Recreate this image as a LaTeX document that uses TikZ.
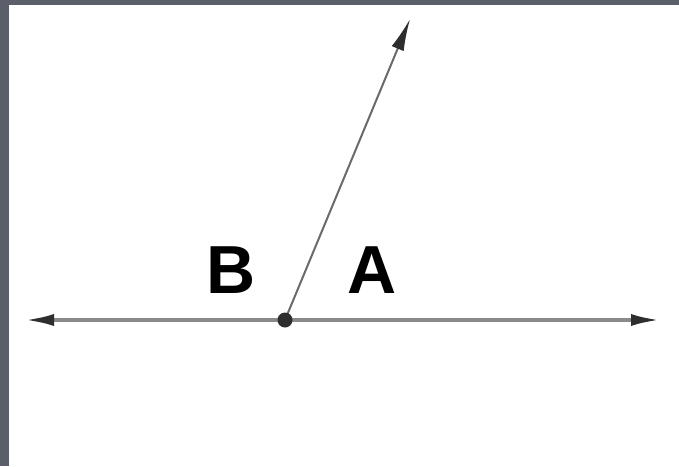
\documentclass[tikz,border=0pt]{standalone}
\usepackage{fontspec}
\setmainfont{Liberation Sans}
\usetikzlibrary{arrows.meta}
\definecolor{frame}{HTML}{5A5F6A}
\definecolor{linegray}{HTML}{8A8A8A}
\definecolor{raygray}{HTML}{6A6A6A}
\definecolor{tipgray}{HTML}{2E2E2E}
\tikzset{
  lbl/.style={font=\fontsize{68}{68}\selectfont\bfseries, inner sep=0pt, text=black},
  baseline/.style={draw=linegray, line width=4pt, {Latex[length=30pt,width=12pt,color=tipgray]}-{Latex[length=30pt,width=12pt,color=tipgray]}, shorten <=0pt, shorten >=0pt},
  rayline/.style={draw=raygray, line width=2pt, -{Latex[length=32pt,width=13pt,color=tipgray]}}
}
\begin{document}
\begin{tikzpicture}[x=1pt,y=-1pt]
\useasboundingbox (0,0) rectangle (679,466);
\fill[white] (0,0) rectangle (679,466);
\fill[frame] (0,0) rectangle (679,4.5);
\fill[frame] (0,0) rectangle (9,466);
\coordinate (L) at (24,320);
\coordinate (R) at (661,320);
\coordinate (O) at (285,320);
\coordinate (T) at (410,19);
\draw[baseline] (L) -- (R);
\draw[rayline] (O) -- (T);
\fill[tipgray] (O) circle (7.5pt);
\node[lbl] (B) at (231,270) {B};
\node[lbl] (A) at (372,270) {A};
\end{tikzpicture}
\end{document}
